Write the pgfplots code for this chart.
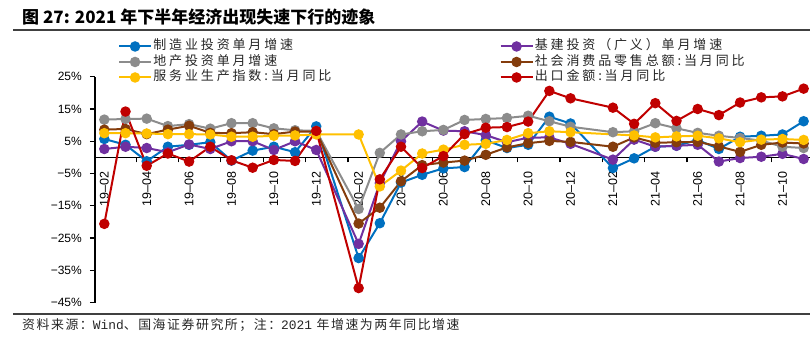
\documentclass[border=0pt]{standalone}
\usepackage{pgfplots}
\pgfplotsset{compat=1.18}
\usepackage{fontspec}
\setmainfont{Liberation Sans}
\setmonofont{Liberation Mono}
\newfontfamily\cjk{Noto Sans CJK SC}
\newfontfamily\cjkleg[LetterSpace=22]{Noto Sans CJK SC}
\newfontfamily\cjksrc[LetterSpace=12]{Noto Sans CJK SC}
\definecolor{cblue}{HTML}{0070C0}
\definecolor{cpurple}{HTML}{7030A0}
\definecolor{cgray}{HTML}{8C8C8C}
\definecolor{cbrown}{HTML}{843C0C}
\definecolor{cyellow}{HTML}{FFC000}
\definecolor{cred}{HTML}{C00000}
\begin{document}
\begin{tikzpicture}
\useasboundingbox (0,0) rectangle (810bp,340bp);
\node[anchor=west, inner sep=0pt] at (22bp,323bp) {\cjk\bfseries\fontsize{17bp}{17bp}\selectfont 图 27: 2021 年下半年经济出现失速下行的迹象};
\draw[line width=1.3bp, black!75] (13bp,310bp) -- (810bp,310bp);
\draw[line width=1.3bp, black!75] (13bp,26bp) -- (810bp,26bp);
\node[anchor=west, inner sep=0pt, text=black!85] at (22bp,15bp) {\cjksrc\fontsize{12.9bp}{12.9bp}\selectfont 资料来源：{\ttfamily Wind}、国海证券研究所；注：{\ttfamily 2021} 年增速为两年同比增速};
\begin{axis}[
  at={(95bp,37.4bp)}, anchor=south west,
  scale only axis, width=715bp, height=225.9bp,
  xmin=-0.44, xmax=33.3, ymin=-45, ymax=25,
  axis x line*=middle, axis y line*=left,
  axis line style={line width=1.2bp, black},
  hide obscured x ticks=false, hide obscured y ticks=false,
  clip=false,
  ytick={-45,-35,...,25},
  yticklabels={−45\%,−35\%,−25\%,−15\%,−5\%,5\%,15\%,25\%},
  ytick style={line width=1.2bp, black},
  major tick length=5bp,
  tick align=outside,
  yticklabel style={font=\fontsize{12bp}{12bp}\selectfont, inner sep=0pt, xshift=-8bp},
  xtick={0,2,...,32},
  xticklabels={19–02,19–04,19–06,19–08,19–10,19–12,20–02,20–04,20–06,20–08,20–10,20–12,21–02,21–04,21–06,21–08,21–10},
  major x tick style={draw=none},
  minor xtick={1.5,3.5,...,31.5},
  minor x tick style={line width=1.2bp, black},
  minor tick length=5bp,
  xticklabel style={font=\fontsize{12.5bp}{12.5bp}\selectfont, rotate=90, anchor=east, inner sep=0pt, xshift=-9bp},
  every axis plot/.append style={line width=2bp, mark=*, mark size=4.2bp, mark options={solid}},
  legend columns=2,
  legend cell align=left,
  legend style={at={(0.032,1.169)}, anchor=north west, draw=none, fill=none, inner sep=0pt, row sep=0pt, column sep=0pt,
    font=\cjkleg\fontsize{13bp}{13bp}\selectfont, text=black!85,
    nodes={text height=10bp, text depth=3bp, inner sep=1.25bp}},
  legend image code/.code={\draw[#1, mark repeat=2, mark phase=2] plot coordinates {(0bp,0bp) (16bp,0bp) (32bp,0bp)};},
]
\addplot[cblue, mark options={fill=cblue}] coordinates {
(0,5.7) (1,3.9) (2,-1.2) (3,3.3) (4,3.9) (5,4.7) (6,-1.0) (7,2.1) (8,3.3) (9,1.6) (10,9.6)
(12,-31.2) (13,-20.4) (14,-7.8) (15,-5.4) (16,-3.4) (17,-3.0) (18,5.3) (19,2.9) (20,3.9) (21,12.6) (22,10.5)
(24,-3.3) (25,-0.3) (26,3.3) (27,3.6) (28,5.4) (29,2.6) (30,6.4) (31,6.7) (32,7.1) (33,11.2)};
\addlegendentry{\makebox[345bp][l]{制造业投资单月增速}}
\addplot[cpurple, mark options={fill=cpurple}] coordinates {
(0,2.6) (1,3.3) (2,2.9) (3,1.6) (4,4.0) (5,2.6) (6,5.0) (7,5.0) (8,2.3) (9,5.0) (10,2.3)
(12,-26.8) (13,-8.0) (14,5.0) (15,11.1) (16,8.3) (17,8.1) (18,6.9) (19,4.7) (20,6.1) (21,6.2) (22,4.2)
(24,-0.7) (25,5.5) (26,3.3) (27,3.6) (28,3.9) (29,-1.3) (30,-0.2) (31,0.2) (32,1.1) (33,-0.5)};
\addlegendentry{基建投资（广义）单月增速}
\addplot[cgray, mark options={fill=cgray}] coordinates {
(0,11.7) (1,11.9) (2,12.0) (3,9.7) (4,10.3) (5,8.9) (6,10.6) (7,10.6) (8,9.0) (9,8.4) (10,8.2)
(12,-16.0) (13,1.4) (14,7.1) (15,8.1) (16,8.5) (17,11.6) (18,11.9) (19,12.2) (20,12.9) (21,11.2) (22,9.5)
(24,7.8) (25,8.1) (26,10.6) (27,9.0) (28,7.6) (29,6.7) (30,6.0) (31,5.2) (32,3.3) (33,2.9)};
\addlegendentry{\makebox[345bp][l]{地产投资单月增速}}
\addplot[cbrown, mark options={fill=cbrown}] coordinates {
(0,8.6) (1,8.8) (2,7.2) (3,8.6) (4,9.8) (5,7.6) (6,7.5) (7,7.8) (8,7.2) (9,8.0) (10,8.0)
(12,-20.5) (13,-15.6) (14,-7.4) (15,-2.4) (16,-1.6) (17,-1.0) (18,0.8) (19,3.1) (20,4.4) (21,5.1) (22,4.8)
(24,3.3) (25,6.2) (26,4.5) (27,4.7) (28,4.8) (29,3.4) (30,1.7) (31,3.9) (32,4.6) (33,4.3)};
\addlegendentry{社会消费品零售总额:当月同比}
\addplot[cyellow, mark options={fill=cyellow}] coordinates {
(0,7.5) (1,7.5) (2,7.4) (3,7.2) (4,7.2) (5,7.1) (6,6.4) (7,6.4) (8,6.7) (9,6.8) (10,7.1)
(12,7.1) (13,-9.0) (14,-4.1) (15,1.2) (16,2.4) (17,3.9) (18,4.2) (19,5.4) (20,7.5) (21,8.1) (22,7.8)
(25,6.8) (26,6.2) (27,6.5) (28,6.7) (29,5.9) (30,4.7) (31,5.5) (32,5.7) (33,5.4)};
\addlegendentry{\makebox[345bp][l]{服务业生产指数:当月同比}}
\addplot[cred, mark options={fill=cred}] coordinates {
(0,-20.6) (1,14.2) (2,-2.6) (3,1.2) (4,-1.3) (5,3.3) (6,-0.9) (7,-3.2) (8,-0.8) (9,-1.1) (10,8.2)
(12,-40.5) (13,-6.8) (14,3.3) (15,-3.3) (16,0.4) (17,7.2) (18,9.2) (19,9.4) (20,11.1) (21,20.6) (22,18.3)
(24,15.4) (25,10.4) (26,16.8) (27,11.3) (28,15.0) (29,13.1) (30,17.0) (31,18.6) (32,18.9) (33,21.3)};
\addlegendentry{出口金额:当月同比}
\end{axis}
\end{tikzpicture}
\end{document}
